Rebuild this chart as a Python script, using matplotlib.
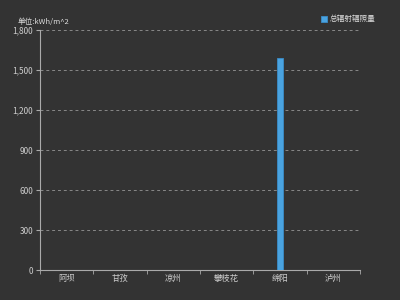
import matplotlib.pyplot as plt
from matplotlib.ticker import FuncFormatter

plt.rcParams['font.family'] = ['Noto Sans CJK SC', 'DejaVu Sans']

cities = ["阿坝", "甘孜", "凉州", "攀枝花", "绵阳", "泸州"]
radiation = [0, 0, 0, 0, 1590, 0]

bg = "#333333"
fig = plt.figure(figsize=(4, 3), dpi=100, facecolor=bg)
ax = fig.add_axes([0.1, 0.1, 0.8, 0.8], facecolor=bg)

x = range(len(cities))
ax.bar(x, radiation, width=0.11, color="#4aa3e0", edgecolor="#3a8cc8", linewidth=0.6,
       label="总辐射辐照量", zorder=3)

ax.set_xlim(-0.5, len(cities) - 0.5)
ax.set_ylim(0, 1800)
ax.set_yticks(range(0, 1801, 300))
ax.yaxis.set_major_formatter(FuncFormatter(lambda v, p: f"{int(v):,}"))
ax.set_xticks(list(x))
ax.set_xticklabels(cities)
ax.set_xticks([i - 0.5 for i in range(len(cities) + 1)], minor=True)
ax.tick_params(axis="x", which="major", length=0, colors="#cccccc", labelsize=6, pad=3)
ax.tick_params(axis="x", which="minor", length=3, color="#aaaaaa")
ax.tick_params(axis="y", length=3, color="#aaaaaa", labelcolor="#cccccc", labelsize=6, pad=2)

ax.grid(axis="y", linestyle=(0, (3, 3)), color="#888888", linewidth=0.7, zorder=0)
for s in ["top", "right"]:
    ax.spines[s].set_visible(False)
ax.spines["left"].set_color("#aaaaaa")
ax.spines["bottom"].set_color("#aaaaaa")

ax.text(-0.07, 1.015, "单位:kWh/m^2", transform=ax.transAxes, fontsize=5.5, color="#dddddd",
        ha="left", va="bottom")

leg = ax.legend(loc="upper right", bbox_to_anchor=(1.07, 1.09), frameon=False, fontsize=5.5,
                handlelength=0.8, handleheight=0.8, handletextpad=0.4)
for t in leg.get_texts():
    t.set_color("#dddddd")

fig.savefig("out.png", dpi=100, facecolor=bg)
